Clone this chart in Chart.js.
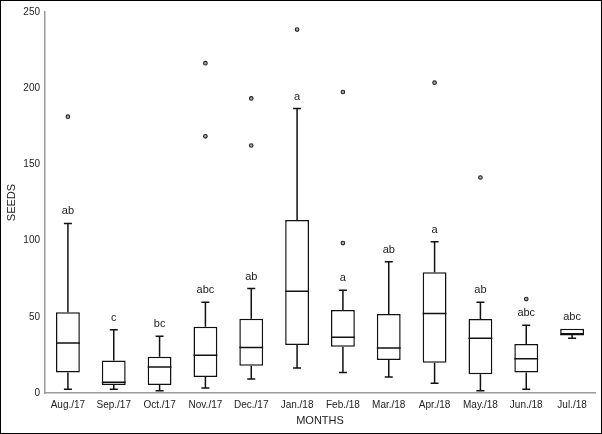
<!DOCTYPE html>
<html>
<head>
<meta charset="utf-8">
<title>Seeds per month</title>
<script src="https://cdn.jsdelivr.net/npm/chart.js@4.4.1/dist/chart.umd.min.js"></script>
<style>
  body {
    margin: 0;
    background: #ffffff;
  }
  #frame {
    width: 602px;
    height: 434px;
    border: 1px solid #000000;
    box-sizing: border-box;
  }
  canvas {
    display: block;
  }
</style>
</head>
<body>
<div id="frame">
  <canvas id="myChart" width="600" height="432"></canvas>
</div>
<script>
//DATA
const months = [
  "Aug./17", "Sep./17", "Oct./17", "Nov./17", "Dec./17", "Jan./18",
  "Feb./18", "Mar./18", "Apr./18", "May./18", "Jun./18", "Jul./18",
];
const whiskerLow = [2.4, 2.4, 1.4, 3.3, 9.2, 16.4, 13.4, 10.5, 6.4, 1.4, 2.4, 35.9];
const q1 = [13.5, 5.3, 5.3, 10.5, 17.9, 31.5, 30.4, 21.7, 19.9, 12.3, 13.4, 38.4];
const median = [32.8, 7, 17, 24.7, 29.9, 66.8, 36.5, 29.5, 52.2, 36, 22.5, 38.4];
const q3 = [53, 21.4, 23.8, 43.5, 48.7, 113.5, 54.4, 51.8, 79.2, 48.5, 32.1, 42.1];
const whiskerHigh = [111.3, 41.5, 37.3, 59.6, 68.5, 186.6, 67.5, 86.2, 99.3, 59.6, 44.5, 42.1];
const outliers = [
  [181.3], [], [], [216.4, 168.4], [193.3, 162.4], [238.5],
  [197.5, 98.4], [], [203.6], [141.4], [61.6], [],
];
const letters = ["ab", "c", "bc", "abc", "ab", "a", "a", "ab", "a", "ab", "abc", "abc"];

const FONT = "'Liberation Sans', Arial, sans-serif";

//OUTLIER POINTS AS {x, y}
const outlierPoints = [];
outliers.forEach((vals, i) => {
  vals.forEach((v) => outlierPoints.push({ x: months[i], y: v }));
});

//PLUGIN - WHISKERS, MEDIANS, LETTERS
const boxExtras = {
  id: "boxExtras",
  afterDatasetsDraw(chart) {
    const ctx = chart.ctx;
    const xScale = chart.scales.x;
    const yScale = chart.scales.y;
    const bars = chart.getDatasetMeta(0).data;
    ctx.save();
    ctx.strokeStyle = "#111111";
    ctx.lineWidth = 1.5;
    months.forEach((m, i) => {
      const x = xScale.getPixelForValue(i);
      const half = bars[i].width / 2;
      const cap = 4;
      const yLow = yScale.getPixelForValue(whiskerLow[i]);
      const yQ1 = yScale.getPixelForValue(q1[i]);
      const yQ3 = yScale.getPixelForValue(q3[i]);
      const yHigh = yScale.getPixelForValue(whiskerHigh[i]);
      const yMed = yScale.getPixelForValue(median[i]);

      ctx.beginPath();
      // lower whisker
      ctx.moveTo(x, yQ1);
      ctx.lineTo(x, yLow);
      ctx.moveTo(x - cap, yLow);
      ctx.lineTo(x + cap, yLow);
      // upper whisker
      if (whiskerHigh[i] > q3[i]) {
        ctx.moveTo(x, yQ3);
        ctx.lineTo(x, yHigh);
        ctx.moveTo(x - cap, yHigh);
        ctx.lineTo(x + cap, yHigh);
      }
      // median
      ctx.moveTo(x - half, yMed);
      ctx.lineTo(x + half, yMed);
      ctx.stroke();

      // letters
      ctx.fillStyle = "#222222";
      ctx.font = "11px " + FONT;
      ctx.textAlign = "center";
      ctx.textBaseline = "middle";
      ctx.fillText(letters[i], x, yHigh - 12);
    });
    ctx.restore();
  },
};

//CHART CONFIGURATION
const data = {
  labels: months,
  datasets: [
    {
      type: "bar",
      label: "Box",
      data: months.map((m, i) => [q1[i], q3[i]]),
      backgroundColor: "#ffffff",
      borderColor: "#111111",
      borderWidth: 1.5,
      borderSkipped: false,
      barPercentage: 0.52,
      categoryPercentage: 1,
    },
    {
      type: "line",
      label: "Outliers",
      data: outlierPoints,
      showLine: false,
      pointRadius: 1.8,
      pointBorderWidth: 1.1,
      pointBorderColor: "#222222",
      pointBackgroundColor: "#aaaaaa",
    },
  ],
};

const config = {
  type: "bar",
  data,
  options: {
    responsive: false,
    devicePixelRatio: 1,
    animation: false,
    layout: {
      padding: { left: 0, right: 6, top: 10, bottom: 0 },
    },
    plugins: {
      legend: { display: false },
      tooltip: { enabled: false },
    },
    scales: {
      x: {
        type: "category",
        offset: true,
        grid: { display: false, drawTicks: false },
        border: { display: true, color: "#9a9a9a", width: 1.5 },
        ticks: {
          color: "#222222",
          font: { family: FONT, size: 10 },
          padding: 6,
          maxRotation: 0,
          autoSkip: false,
        },
        title: {
          display: true,
          text: "MONTHS",
          color: "#222222",
          font: { family: FONT, size: 11 },
          padding: { top: 0, bottom: 5 },
        },
        afterFit(scale) {
          scale.height = 40;
        },
      },
      y: {
        min: 0,
        max: 250,
        grid: { display: false, drawTicks: false },
        border: { display: true, color: "#9a9a9a", width: 1.5 },
        ticks: {
          stepSize: 50,
          color: "#222222",
          font: { family: FONT, size: 10 },
          padding: 5,
        },
        title: {
          display: true,
          text: "SEEDS",
          color: "#222222",
          font: { family: FONT, size: 11 },
          padding: { top: 4, bottom: 0 },
        },
        afterFit(scale) {
          scale.width = 44;
        },
      },
    },
  },
  plugins: [boxExtras],
};

// RENDER CHART
const myChart = new Chart(document.getElementById("myChart"), config);
</script>
</body>
</html>
